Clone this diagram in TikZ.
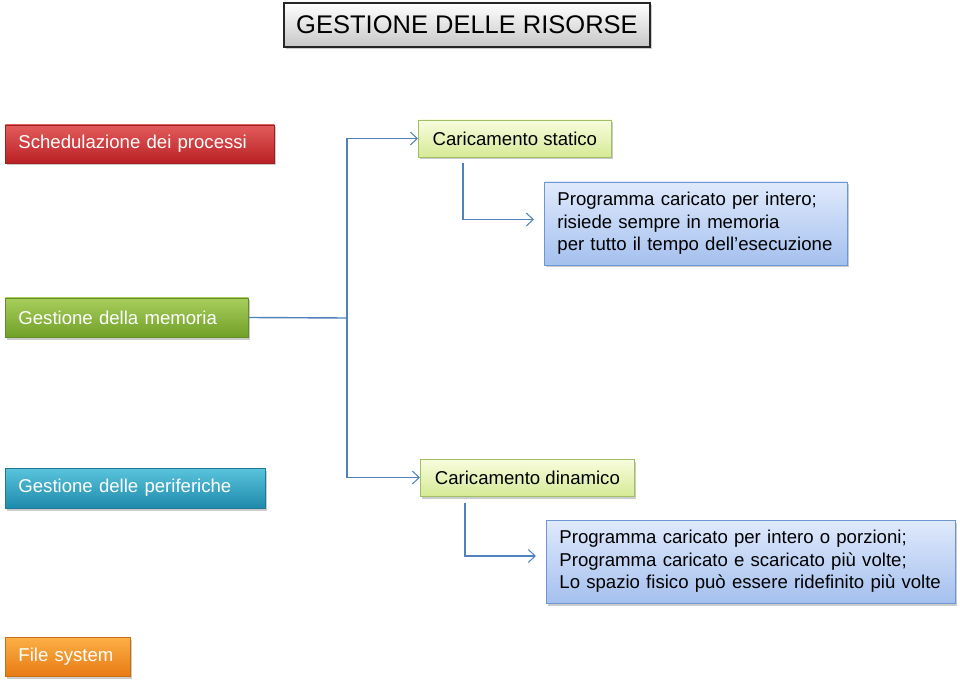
\documentclass[tikz,border=0pt]{standalone}
\usepackage{fontspec}
\setmainfont{Liberation Sans}
\usetikzlibrary{arrows.meta,shadows,calc}
\definecolor{lnc}{RGB}{79,129,189}
\definecolor{redT}{RGB}{226,92,92}
\definecolor{redB}{RGB}{186,32,36}
\definecolor{redD}{RGB}{160,30,30}
\definecolor{grnT}{RGB}{168,206,92}
\definecolor{grnB}{RGB}{112,160,40}
\definecolor{grnD}{RGB}{100,140,40}
\definecolor{tealT}{RGB}{90,196,220}
\definecolor{tealB}{RGB}{30,138,172}
\definecolor{tealD}{RGB}{30,120,150}
\definecolor{orT}{RGB}{252,176,70}
\definecolor{orB}{RGB}{232,122,20}
\definecolor{orD}{RGB}{200,110,20}
\definecolor{lgT}{RGB}{248,252,222}
\definecolor{lgB}{RGB}{214,234,150}
\definecolor{lgD}{RGB}{160,190,100}
\definecolor{blT}{RGB}{224,234,252}
\definecolor{blB}{RGB}{164,192,238}
\definecolor{blD}{RGB}{110,150,210}
\begin{document}
\begin{tikzpicture}[x=1pt,y=-1pt,
  boxbase/.style={rectangle, draw, line width=0.8pt, inner ysep=0pt,
    drop shadow={shadow xshift=1.5pt, shadow yshift=-2.5pt, opacity=0.4}},
  colbox/.style={boxbase, text=white, align=left, inner xsep=13pt,
    font=\fontsize{18.6}{22.5}\selectfont},
  redbox/.style={colbox, top color=redT, bottom color=redB, draw=redD},
  grnbox/.style={colbox, top color=grnT, bottom color=grnB, draw=grnD},
  tealbox/.style={colbox, top color=tealT, bottom color=tealB, draw=tealD},
  orbox/.style={colbox, top color=orT, bottom color=orB, draw=orD},
  lgbox/.style={boxbase, top color=lgT, bottom color=lgB, draw=lgD, inner xsep=0pt,
    font=\fontsize{18.6}{22.5}\selectfont},
  blbox/.style={boxbase, top color=blT, bottom color=blB, draw=blD, align=left,
    inner xsep=13pt, font=\fontsize{18.6}{22.5}\selectfont},
  titlebox/.style={boxbase, top color=white, bottom color=black!22, draw=black!85,
    line width=1.2pt, font=\fontsize{25.5}{30}\selectfont},
  conn/.style={draw=lnc, line width=1.4pt},
  arr/.style={conn, -{Straight Barb[length=7pt,width=13pt,line width=1pt]}}
]
\useasboundingbox (0,0) rectangle (960,684);

\node[titlebox, minimum width=366pt, minimum height=44pt] (title) at (467,25) {GESTIONE DELLE RISORSE};

\node[redbox, anchor=west, text width=243pt, minimum height=38pt] (sched) at (5,144) {Schedulazione dei processi};
\node[grnbox, anchor=west, text width=217pt, minimum height=39pt] (mem) at (5,317.5) {Gestione della memoria};
\node[tealbox, anchor=west, text width=234pt, minimum height=40pt] (per) at (5,488) {Gestione delle periferiche};
\node[orbox, anchor=west, text width=99pt, minimum height=39pt] (fs) at (5,656.5) {File system};

\node[lgbox, anchor=west, minimum width=193pt, minimum height=37pt] (stat) at (418,138.5) {Caricamento statico};
\node[lgbox, anchor=west, minimum width=214pt, minimum height=37pt] (dyn) at (420,477.5) {Caricamento dinamico};

\node[blbox, anchor=west, text width=277pt, minimum height=83pt] (b1) at (544,223.5)
  {Programma caricato per intero;\\risiede sempre in memoria\\per tutto il tempo dell’esecuzione};
\node[blbox, anchor=west, text width=383pt, minimum height=83pt] (b2) at (546,561.5)
  {Programma caricato per intero o porzioni;\\Programma caricato e scaricato più volte;\\Lo spazio fisico può essere ridefinito più volte};

\coordinate (jn) at (347,318);
\coordinate (s1) at ($(stat.south west)+(45,6)$);
\coordinate (s2) at ($(dyn.south west)+(45,7)$);

\draw[conn] (mem.east) -- (jn);
\draw[arr] (jn) |- (stat.west);
\draw[arr] (jn) |- (dyn.west);
\draw[arr, shorten >=10pt] (s1) |- ([yshift=4pt]b1.west);
\draw[arr, shorten >=10pt] (s2) |- ([yshift=5.5pt]b2.west);
\end{tikzpicture}
\end{document}
